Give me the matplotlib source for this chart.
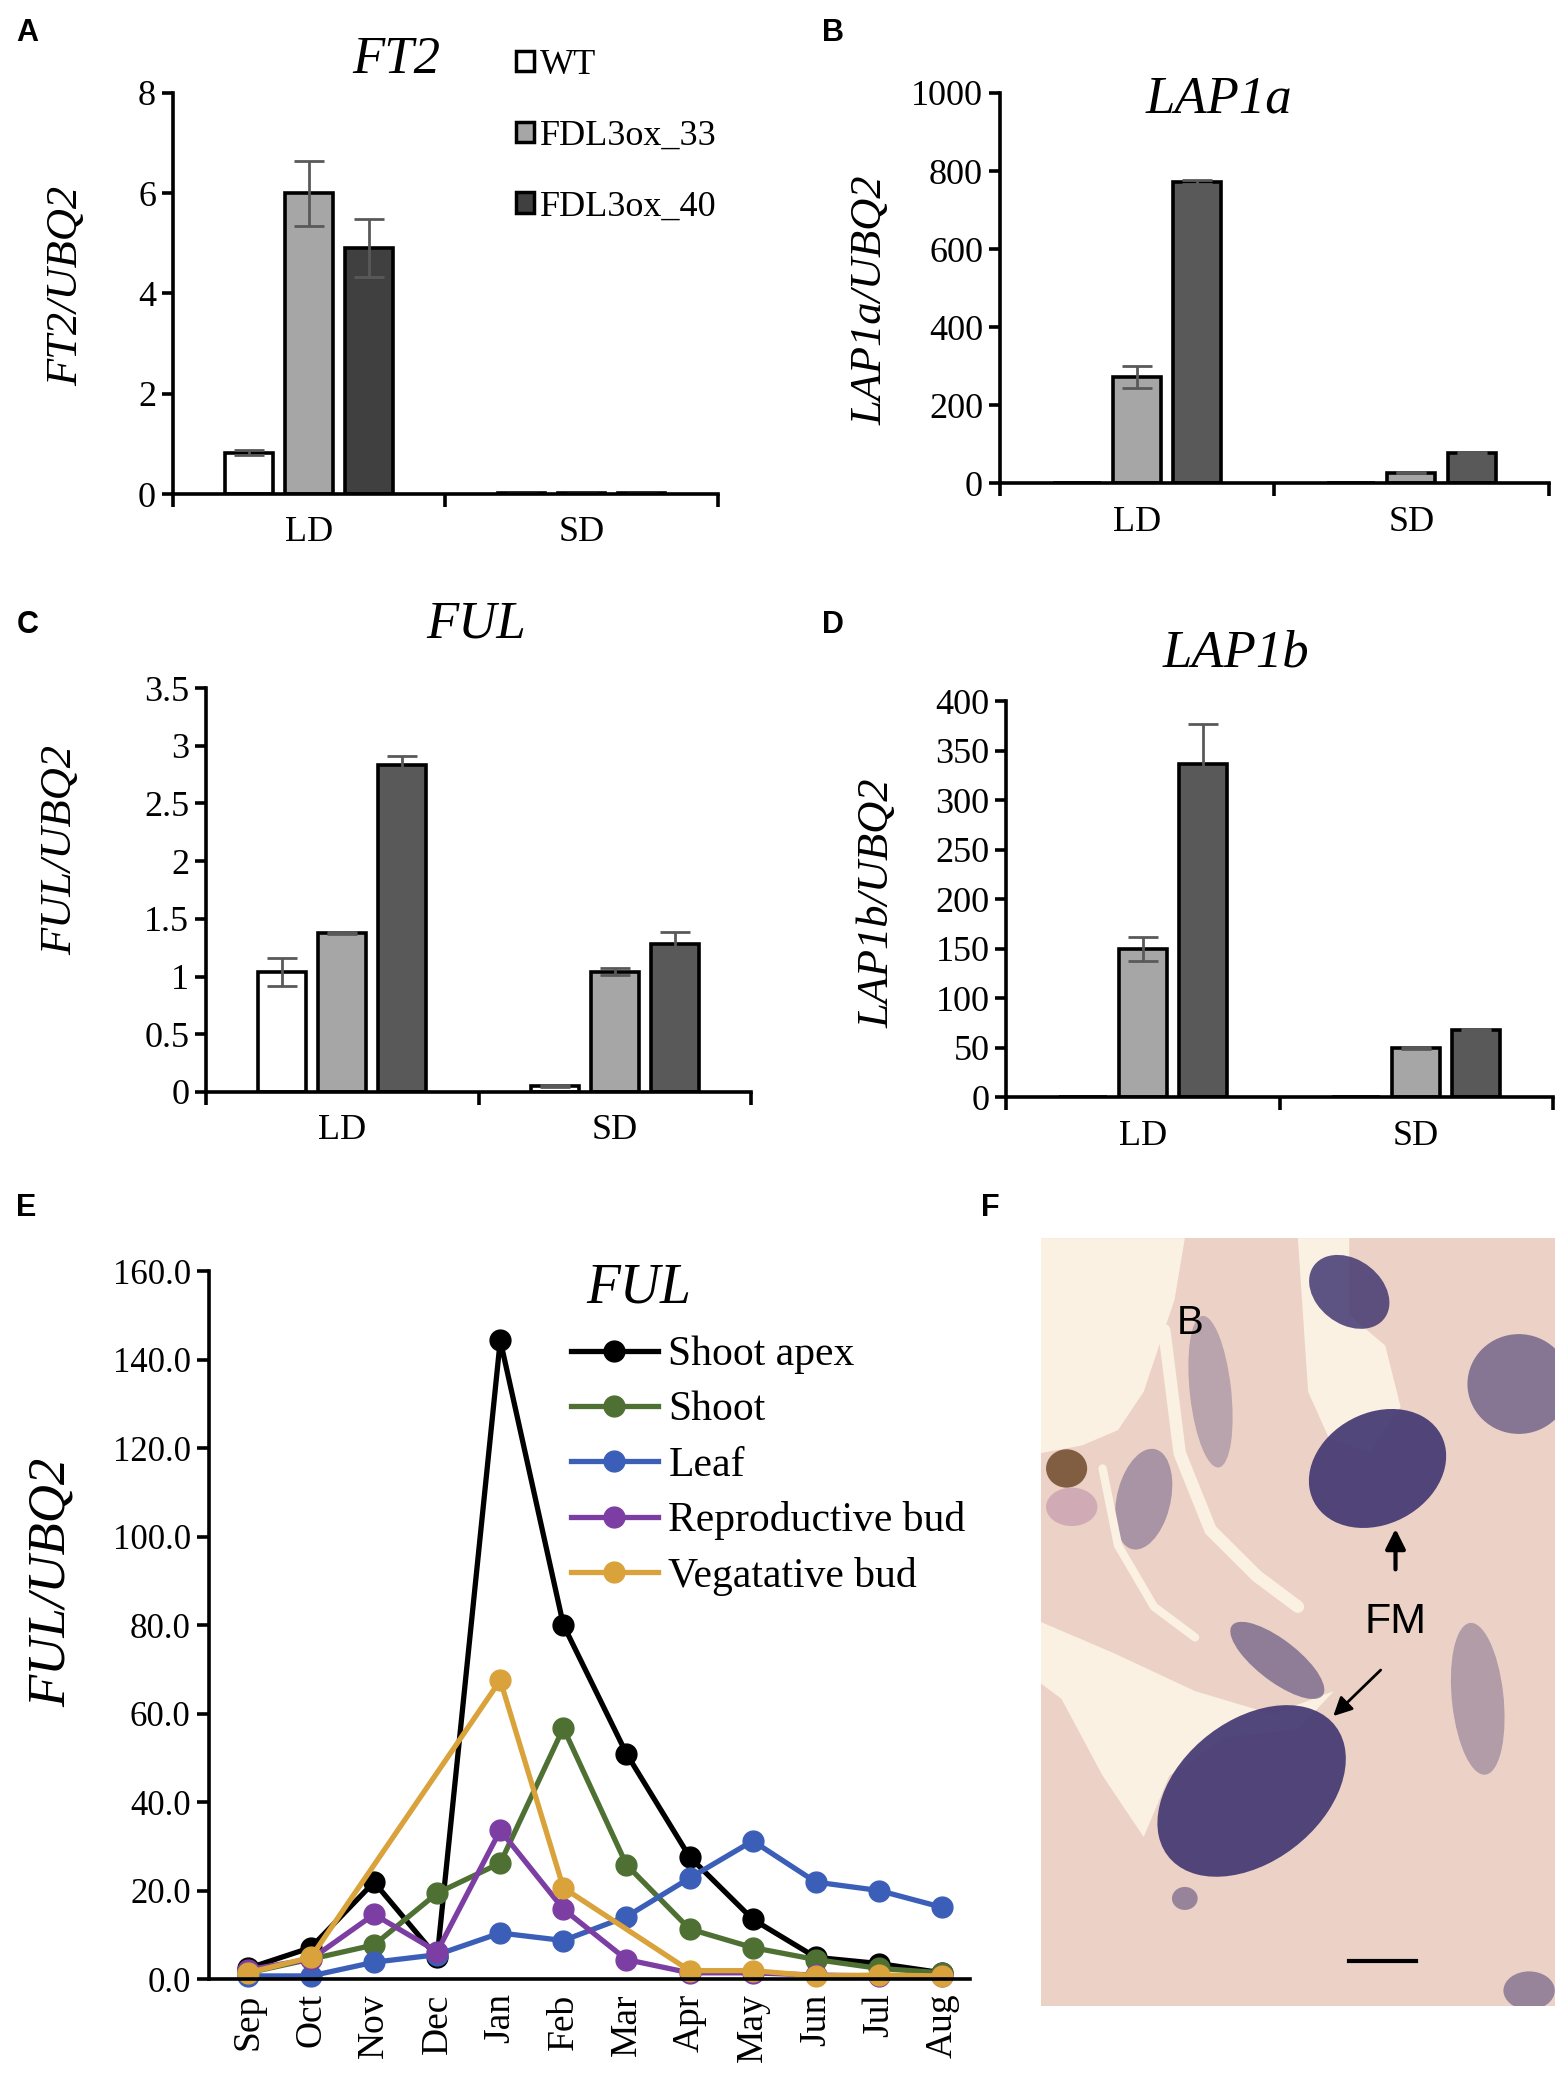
import numpy as np
import matplotlib.pyplot as plt
from matplotlib.patches import Patch, Ellipse, Polygon, Rectangle

plt.rcParams['font.family'] = ['Liberation Serif', 'DejaVu Serif']

# ---- data: bar panels (LD, SD) ----
conditions = ['LD', 'SD']
genotypes = ['WT', 'FDL3ox_33', 'FDL3ox_40']

ft2_wt = [0.82, 0.02]
ft2_33 = [6.0, 0.03]
ft2_40 = [4.9, 0.02]
ft2_wt_err = [0.05, 0.0]
ft2_33_err = [0.65, 0.0]
ft2_40_err = [0.58, 0.0]

lap1a_wt = [0, 0]
lap1a_33 = [272, 28]
lap1a_40 = [772, 78]
lap1a_wt_err = [0, 0]
lap1a_33_err = [28, 2]
lap1a_40_err = [4, 3]

ful_wt = [1.04, 0.05]
ful_33 = [1.38, 1.04]
ful_40 = [2.83, 1.28]
ful_wt_err = [0.12, 0.01]
ful_33_err = [0.01, 0.03]
ful_40_err = [0.08, 0.11]

lap1b_wt = [0, 0]
lap1b_33 = [150, 50]
lap1b_40 = [337, 68]
lap1b_wt_err = [0, 0]
lap1b_33_err = [12, 1]
lap1b_40_err = [40, 1]

# ---- data: seasonal FUL expression ----
months = ['Sep', 'Oct', 'Nov', 'Dec', 'Jan', 'Feb', 'Mar', 'Apr', 'May', 'Jun', 'Jul', 'Aug']
shoot_apex = [2.5, 7.2, 22.0, 5.0, 144.4, 80.1, 51.0, 27.7, 13.6, 5.0, 3.6, 1.5]
shoot = [1.5, 4.6, 7.8, 19.5, 26.3, 56.8, 25.9, 11.4, 7.2, 4.5, 2.5, 1.5]
leaf = [0.8, 0.8, 3.9, 5.6, 10.5, 8.8, 14.2, 22.9, 31.3, 22.0, 20.1, 16.3]
repro_bud = [2.2, 4.6, 14.7, 6.3, 33.7, 15.9, 4.5, 1.5, 1.5, 1.0, 0.8, 0.8]
veg_bud = [1.5, 5.0, np.nan, np.nan, 67.6, 20.7, np.nan, 2.0, 2.0, 0.8, 1.0, 0.8]

series_names = ['Shoot apex', 'Shoot', 'Leaf', 'Reproductive bud', 'Vegatative bud']
series_colors = ['#000000', '#4f7033', '#3b5fb8', '#7c3ea2', '#d9a23a']

fig = plt.figure(figsize=(15.62, 20.83), dpi=100)

TICK = 26
LW = 2.6


def bar_panel(rect, means, errs, dark, yticks, ylabels, ylabel, title, title_xy, lab_xy):
    ax = fig.add_axes(rect)
    x = np.arange(len(conditions))
    colors = ['white', '#a6a6a6', dark]
    for i, (m, e) in enumerate(zip(means, errs)):
        ax.bar(x + (i - 1) * 0.22, m, width=0.175, color=colors[i],
               edgecolor='black', linewidth=LW, zorder=2)
        ax.errorbar(x + (i - 1) * 0.22, m, yerr=e, fmt='none', ecolor='#595959',
                    elinewidth=2, capsize=11, capthick=2, zorder=3)
    ax.set_xlim(-0.5, 1.5)
    ax.set_ylim(yticks[0], yticks[-1])
    ax.set_yticks(yticks)
    ax.set_yticklabels(ylabels, fontsize=TICK)
    ax.set_xticks([-0.5, 0.5, 1.5])
    ax.set_xticklabels([])
    ax.set_xticks(x, minor=True)
    ax.set_xticklabels(conditions, minor=True, fontsize=TICK)
    ax.tick_params(axis='x', which='major', direction='out', length=9, width=LW)
    ax.tick_params(axis='x', which='minor', length=0, pad=16)
    ax.tick_params(axis='y', direction='out', length=8, width=LW, pad=4)
    for s in ['top', 'right']:
        ax.spines[s].set_visible(False)
    for s in ['left', 'bottom']:
        ax.spines[s].set_linewidth(LW)
    ax.spines['bottom'].set_zorder(4)
    ax.set_ylabel(ylabel, fontsize=32, style='italic')
    ax.yaxis.set_label_coords(*lab_xy)
    ax.text(title_xy[0], title_xy[1], title, transform=ax.transAxes, fontsize=38,
            style='italic', ha='center', va='center')
    return ax


axA = bar_panel([0.1106, 0.7628, 0.349, 0.1926],
                [ft2_wt, ft2_33, ft2_40], [ft2_wt_err, ft2_33_err, ft2_40_err], '#404040',
                [0, 2, 4, 6, 8], ['0', '2', '4', '6', '8'],
                'FT2/UBQ2', 'FT2', (0.41, 1.083), (-0.158, 0.52))
handles = [Patch(facecolor=c, edgecolor='black', linewidth=2.5)
           for c in ['white', '#a6a6a6', '#404040']]
axA.legend(handles, genotypes, loc='upper left', bbox_to_anchor=(0.63, 1.11),
           frameon=False, fontsize=26, handlelength=0.5, handleheight=0.5,
           handletextpad=0.15, labelspacing=1.05, borderpad=0, borderaxespad=0)

bar_panel([0.640, 0.7679, 0.3515, 0.1875],
          [lap1a_wt, lap1a_33, lap1a_40], [lap1a_wt_err, lap1a_33_err, lap1a_40_err], '#595959',
          [0, 200, 400, 600, 800, 1000], ['0', '200', '400', '600', '800', '1000'],
          'LAP1a/UBQ2', 'LAP1a', (0.40, 0.983), (-0.199, 0.47))

bar_panel([0.1319, 0.4758, 0.349, 0.1939],
          [ful_wt, ful_33, ful_40], [ful_wt_err, ful_33_err, ful_40_err], '#595959',
          [0, 0.5, 1, 1.5, 2, 2.5, 3, 3.5], ['0', '0.5', '1', '1.5', '2', '2.5', '3', '3.5'],
          'FUL/UBQ2', 'FUL', (0.495, 1.158), (-0.231, 0.6))

bar_panel([0.6443, 0.4732, 0.3498, 0.1901],
          [lap1b_wt, lap1b_33, lap1b_40], [lap1b_wt_err, lap1b_33_err, lap1b_40_err], '#595959',
          [0, 50, 100, 150, 200, 250, 300, 350, 400],
          ['0', '50', '100', '150', '200', '250', '300', '350', '400'],
          'LAP1b/UBQ2', 'LAP1b', (0.42, 1.12), (-0.2, 0.49))

# ---- panel E: line chart ----
axE = fig.add_axes([0.1336, 0.0497, 0.4877, 0.34])
xm = np.arange(len(months))
for name, vals, c in zip(series_names, [shoot_apex, shoot, leaf, repro_bud, veg_bud], series_colors):
    v = np.array(vals, dtype=float)
    ok = ~np.isnan(v)
    axE.plot(xm[ok], v[ok], color=c, linewidth=3.8, marker='o', markersize=15,
             label=name, clip_on=False)
axE.set_xlim(-0.62, 11.45)
axE.set_ylim(0, 160)
axE.set_yticks(np.arange(0, 161, 20))
axE.set_yticklabels(['%.1f' % t for t in np.arange(0, 161, 20)], fontsize=25)
axE.set_xticks(xm)
axE.set_xticklabels(months, rotation=90, fontsize=27)
axE.tick_params(axis='x', length=0, pad=10)
axE.tick_params(axis='y', direction='out', length=9, width=LW, pad=4)
for s in ['top', 'right']:
    axE.spines[s].set_visible(False)
for s in ['left', 'bottom']:
    axE.spines[s].set_linewidth(LW)
axE.set_ylabel('FUL/UBQ2', fontsize=38, style='italic')
axE.yaxis.set_label_coords(-0.175, 0.56)
axE.text(0.565, 0.976, 'FUL', transform=axE.transAxes, fontsize=40,
         style='italic', ha='center', va='center')
axE.legend(loc='upper left', bbox_to_anchor=(0.475, 0.909), frameon=False, fontsize=30,
           handlelength=2.1, handletextpad=0.25, labelspacing=0.4, borderpad=0,
           borderaxespad=0)

# ---- panel F: in situ section (schematic) ----
axF = fig.add_axes([0.6664, 0.037, 0.329, 0.3686])
axF.set_xlim(0, 1)
axF.set_ylim(0, 1)
axF.set_xticks([])
axF.set_yticks([])
for s in axF.spines.values():
    s.set_visible(False)
axF.add_patch(Rectangle((0, 0), 1, 1, facecolor='#ecd2c6', edgecolor='none'))
cream = '#fbf1e2'
axF.add_patch(Polygon([(0, 1), (0.28, 1), (0.26, 0.92), (0.2, 0.8), (0.15, 0.75),
                       (0.08, 0.73), (0, 0.72)], facecolor=cream, edgecolor='none'))
axF.add_patch(Polygon([(0.5, 1), (0.6, 1), (0.6, 0.9), (0.67, 0.86), (0.7, 0.78),
                       (0.64, 0.72), (0.56, 0.74), (0.52, 0.8)], facecolor=cream, edgecolor='none'))
axF.add_patch(Polygon([(0.0, 0.5), (0.14, 0.46), (0.3, 0.41), (0.45, 0.38), (0.57, 0.41),
                       (0.5, 0.36), (0.36, 0.35), (0.25, 0.3), (0.2, 0.22), (0.12, 0.3),
                       (0.04, 0.4), (0.0, 0.42)], facecolor=cream, edgecolor='none'))
axF.plot([0.24, 0.27, 0.33, 0.42, 0.5], [0.88, 0.72, 0.62, 0.56, 0.52],
         color=cream, linewidth=9, solid_capstyle='round')
axF.plot([0.12, 0.15, 0.22, 0.3], [0.7, 0.6, 0.52, 0.48],
         color=cream, linewidth=6, solid_capstyle='round')
purple = '#433872'
for xy, w, h, ang, a in [((0.655, 0.70), 0.27, 0.15, 10, 0.92),
                         ((0.41, 0.28), 0.38, 0.2, 18, 0.92),
                         ((0.6, 0.93), 0.16, 0.09, -15, 0.85),
                         ((0.93, 0.81), 0.2, 0.13, 0, 0.6),
                         ((0.46, 0.45), 0.2, 0.06, -25, 0.55),
                         ((0.2, 0.66), 0.1, 0.14, -30, 0.4),
                         ((0.33, 0.8), 0.08, 0.2, 10, 0.3),
                         ((0.85, 0.4), 0.1, 0.2, 10, 0.35),
                         ((0.95, 0.02), 0.1, 0.05, 0, 0.5),
                         ((0.28, 0.14), 0.05, 0.03, 0, 0.5)]:
    axF.add_patch(Ellipse(xy, w, h, angle=ang, facecolor=purple, alpha=a, edgecolor='none'))
axF.add_patch(Ellipse((0.05, 0.7), 0.08, 0.05, facecolor='#6e4a2a', alpha=0.85, edgecolor='none'))
axF.add_patch(Ellipse((0.06, 0.65), 0.1, 0.05, facecolor='#c9a0b0', alpha=0.8, edgecolor='none'))
axF.text(0.29, 0.89, 'B', fontsize=29, family='Liberation Sans', ha='center', va='center')
axF.text(0.69, 0.5, 'FM', fontsize=31, family='Liberation Sans', ha='center', va='center')
axF.annotate('', xy=(0.69, 0.625), xytext=(0.69, 0.565),
             arrowprops=dict(arrowstyle='-|>', color='black', lw=3, mutation_scale=30))
axF.annotate('', xy=(0.565, 0.375), xytext=(0.665, 0.44),
             arrowprops=dict(arrowstyle='-|>', color='black', lw=2, mutation_scale=28))
axF.plot([0.6, 0.73], [0.058, 0.058], color='black', linewidth=3)

# ---- panel letters ----
for lab, x, y in [('A', 0.0105, 0.984), ('B', 0.526, 0.984), ('C', 0.0105, 0.700),
                  ('D', 0.526, 0.700), ('E', 0.0105, 0.420), ('F', 0.628, 0.420)]:
    fig.text(x, y, lab, fontsize=22, fontweight='bold', family='Liberation Sans',
             ha='left', va='center')

fig.savefig('out.png', dpi=100)
